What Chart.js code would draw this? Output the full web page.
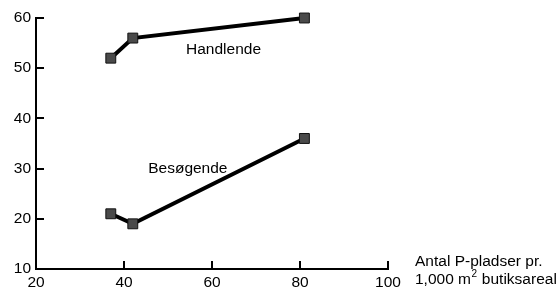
<!DOCTYPE html>
<html>
<head>
<meta charset="utf-8">
<script src="https://cdn.jsdelivr.net/npm/chart.js@4/dist/chart.umd.min.js"></script>
<style>
  html, body { margin: 0; padding: 0; background: #fff; }
  #wrap { width: 560px; height: 291px; }
</style>
</head>
<body>
<div id="wrap"><canvas id="chart"></canvas></div>
<script>
// data
const handX = [37, 42, 81];
const handY = [52, 56, 60];
const besX = [37, 42, 81];
const besY = [21, 19, 36];
const xTicks = [20, 40, 60, 80, 100];
const yTicks = [10, 20, 30, 40, 50, 60];

const FONT = "'Liberation Sans', Arial, sans-serif";

function toPoints(xs, ys) {
  return xs.map((x, i) => ({ x, y: ys[i] }));
}

const series = {
  type: "line",
  showLine: true,
  borderColor: "#000",
  borderWidth: 4,
  pointStyle: "rect",
  pointRadius: 7,
  pointHoverRadius: 7,
  pointBackgroundColor: "#4a4a4a",
  pointBorderColor: "#111",
  pointBorderWidth: 1,
  clip: false
};

// inward tick marks, text labels and the x axis title
const extras = {
  id: "extras",
  afterDraw(chart) {
    const ctx = chart.ctx;
    const xs = chart.scales.x, ys = chart.scales.y;
    const area = chart.chartArea;
    ctx.save();
    ctx.strokeStyle = "#000";
    ctx.lineWidth = 2;
    ctx.beginPath();
    xTicks.forEach(v => {
      const px = Math.round(xs.getPixelForValue(v));
      ctx.moveTo(px, area.bottom);
      ctx.lineTo(px, area.bottom - 8);
    });
    yTicks.forEach(v => {
      const py = Math.round(ys.getPixelForValue(v));
      ctx.moveTo(area.left, py);
      ctx.lineTo(area.left + 8, py);
    });
    ctx.stroke();

    ctx.fillStyle = "#000";
    ctx.font = "15.5px " + FONT;
    ctx.textBaseline = "middle";
    ctx.textAlign = "left";
    ctx.fillText("Handlende", xs.getPixelForValue(54.1), ys.getPixelForValue(53.6));
    ctx.fillText("Besøgende", xs.getPixelForValue(45.5), ys.getPixelForValue(30));

    const tx = area.right + 27;
    ctx.fillText("Antal P-pladser pr.", tx, 262);
    let x = tx;
    const y2 = 280;
    ctx.fillText("1,000 m", x, y2);
    x += ctx.measureText("1,000 m").width;
    ctx.font = "10px " + FONT;
    ctx.fillText("2", x + 0.5, y2 - 6);
    x += ctx.measureText("2").width + 1;
    ctx.font = "15.5px " + FONT;
    ctx.fillText(" butiksareal", x, y2);
    ctx.restore();
  }
};

new Chart(document.getElementById("chart"), {
  type: "scatter",
  data: {
    datasets: [
      Object.assign({ label: "Handlende", data: toPoints(handX, handY) }, series),
      Object.assign({ label: "Besøgende", data: toPoints(besX, besY) }, series)
    ]
  },
  options: {
    responsive: true,
    maintainAspectRatio: false,
    animation: false,
    layout: { padding: { top: 18, right: 172, left: 0, bottom: 0 } },
    plugins: {
      legend: { display: false },
      tooltip: { enabled: false }
    },
    scales: {
      x: {
        type: "linear",
        min: 20, max: 100,
        afterFit: s => { s.height = 22; },
        afterBuildTicks: s => { s.ticks = xTicks.map(v => ({ value: v })); },
        grid: { display: false, drawTicks: false },
        border: { display: true, color: "#000", width: 2 },
        ticks: { color: "#000", padding: 4, font: { family: FONT, size: 15.5 } }
      },
      y: {
        type: "linear",
        min: 10, max: 60,
        afterFit: s => { s.width = 36; },
        afterBuildTicks: s => { s.ticks = yTicks.map(v => ({ value: v })); },
        grid: { display: false, drawTicks: false },
        border: { display: true, color: "#000", width: 2 },
        ticks: { color: "#000", padding: 5, font: { family: FONT, size: 15.5 } }
      }
    }
  },
  plugins: [extras]
});
</script>
</body>
</html>
